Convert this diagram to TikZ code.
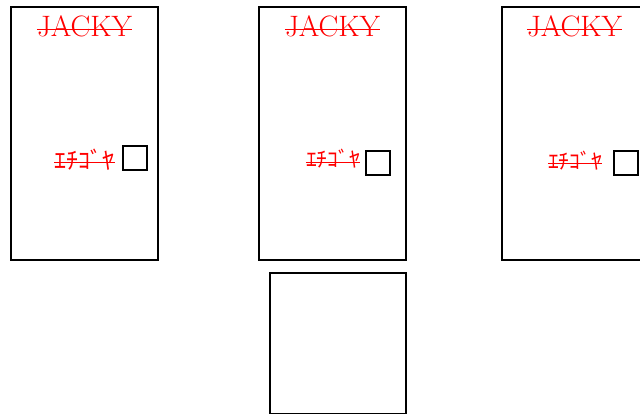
\documentclass[tikz,border=0pt]{standalone}
\usepackage{fontspec}
\newfontfamily\jpfont{Noto Sans CJK JP}
\begin{document}
\begin{tikzpicture}[x=1pt,y=-1pt,
  frame/.style={draw=black,line width=1.6pt},
  tick/.style={draw=black,line width=1.6pt},
  title/.style={text=red,inner sep=0pt,anchor=base,font=\fontsize{29.5}{32}\selectfont},
  jp/.style={text=red,inner sep=0pt,anchor=center},
  strike/.style={draw=red,line width=1.8pt}]
\useasboundingbox (0,0) rectangle (640,415);
% frames
\draw[frame] (11,7) rectangle (158,260);
\draw[frame] (259,7) rectangle (406,260);
\draw[frame] (502,7) rectangle (660,260);
\draw[frame] (270,273) rectangle (406,413.5);
% small squares
\draw[tick] (123,146) rectangle (147,170);
\draw[tick] (366,151) rectangle (390,175);
\draw[tick] (614,151) rectangle (638,175);
% titles
\node[title] (j1) at (84.5,36.5) {JACKY};
\node[title] (j2) at (332.5,36.5) {JACKY};
\node[title] (j3) at (574.5,36.5) {JACKY};
\foreach \n in {j1,j2,j3}
  \draw[strike] ([yshift=7pt]\n.base west) -- ([yshift=7pt]\n.base east);
% japanese labels
\node[jp,font=\jpfont\fontsize{24}{26}\selectfont] (e1) at (84.5,160) {ｴﾁｺﾞﾔ};
\node[jp,font=\jpfont\fontsize{21.6}{24}\selectfont] (e2) at (333,159) {ｴﾁｺﾞﾔ};
\node[jp,font=\jpfont\fontsize{21.6}{24}\selectfont] (e3) at (575,160.5) {ｴﾁｺﾞﾔ};
\draw[strike] (e1.west |- 0,162.5) -- (e1.east |- 0,162.5);
\draw[strike,line width=1.4pt] (e2.west |- 0,162.5) -- (e2.east |- 0,162.5);
\draw[strike,line width=1.4pt] (e3.west |- 0,163.5) -- (e3.east |- 0,163.5);
\end{tikzpicture}
\end{document}
